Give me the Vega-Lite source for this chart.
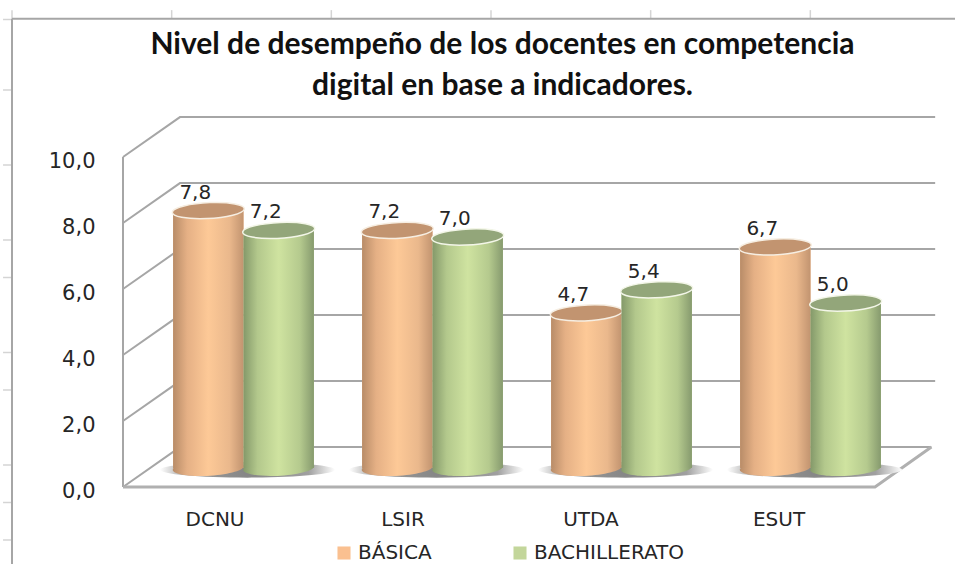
{
"$schema":"https://vega.github.io/schema/vega-lite/v6.json",
"width":955,"height":564,"padding":0,"autosize":{"type":"none"},"background":"#ffffff",
"config":{"view":{"stroke":null},"locale":{"number":{"decimal":",","thousands":".","grouping":[3],"currency":["","€"]}}},
"title":{"text":["Nivel de desempeño de los docentes en competencia","digital en base a indicadores."],"anchor":"middle","dx":25,"dy":134.5,"font":"Lato","fontWeight":"bold","fontSize":30,"lineHeight":41,"color":"#111111","baseline":"bottom"},
"datasets":{
"bars":[
{"indicador":"DCNU","nivel":"BÁSICA","v":7.8},{"indicador":"DCNU","nivel":"BACHILLERATO","v":7.2},
{"indicador":"LSIR","nivel":"BÁSICA","v":7.2},{"indicador":"LSIR","nivel":"BACHILLERATO","v":7.0},
{"indicador":"UTDA","nivel":"BÁSICA","v":4.7},{"indicador":"UTDA","nivel":"BACHILLERATO","v":5.4},
{"indicador":"ESUT","nivel":"BÁSICA","v":6.7},{"indicador":"ESUT","nivel":"BACHILLERATO","v":5.0}],
"cats":[{"indicador":"DCNU"},{"indicador":"LSIR"},{"indicador":"UTDA"},{"indicador":"ESUT"}],
"wall":[
{"g":"0","d":0,"h":0},{"g":"0","d":0.303,"h":1.21},{"g":"0","d":4.3,"h":1.21},
{"g":"2","d":0,"h":2},{"g":"2","d":0.303,"h":3.21},{"g":"2","d":4.32,"h":3.21},
{"g":"4","d":0,"h":4},{"g":"4","d":0.303,"h":5.21},{"g":"4","d":4.32,"h":5.21},
{"g":"6","d":0,"h":6},{"g":"6","d":0.303,"h":7.21},{"g":"6","d":4.32,"h":7.21},
{"g":"8","d":0,"h":8},{"g":"8","d":0.303,"h":9.21},{"g":"8","d":4.32,"h":9.21},
{"g":"10","d":0,"h":10},{"g":"10","d":0.303,"h":11.21},{"g":"10","d":4.32,"h":11.21},
{"g":"axis","d":0,"h":0},{"g":"axis","d":0,"h":10}],
"floorFront":[{"d":0,"h":0},{"d":4,"h":0},{"d":4.3,"h":1.21}],
"frameTicks":[
{"c":0,"c2":0,"r":-0.13,"r2":0.1},{"c":1,"c2":1,"r":-0.13,"r2":0.1},{"c":2,"c2":2,"r":-0.13,"r2":0.1},{"c":3,"c2":3,"r":-0.13,"r2":0.1},{"c":4,"c2":4,"r":-0.13,"r2":0.1},{"c":5,"c2":5,"r":-0.13,"r2":0.1},
{"c":-0.056,"c2":0,"r":0.12,"r2":0.12},{"c":-0.056,"c2":0,"r":2,"r2":2},{"c":-0.056,"c2":0,"r":4,"r2":4},{"c":-0.056,"c2":0,"r":6,"r2":6},{"c":-0.056,"c2":0,"r":7,"r2":7},{"c":-0.056,"c2":0,"r":9,"r2":9},{"c":-0.056,"c2":0,"r":10,"r2":10},{"c":-0.056,"c2":0,"r":12,"r2":12},{"c":-0.056,"c2":0,"r":13,"r2":13},{"c":-0.056,"c2":0,"r":14,"r2":14}],
"frame":[{"c":0,"c2":0,"r":0.1,"r2":15},{"c":0,"c2":6,"r":0.1,"r2":0.1}]
},
"resolve":{"scale":{"x":"independent","y":"independent"},"axis":{"x":"independent","y":"independent"}},
"layer":[
{"data":{"name":"frameTicks"},"mark":{"type":"rule","stroke":"#d4d4d4","strokeWidth":1.5},
 "encoding":{"x":{"field":"c","type":"quantitative","axis":null,"scale":{"domain":[0,6],"range":[12,970],"zero":false,"nice":false}},"x2":{"field":"c2"},"y":{"field":"r","type":"quantitative","axis":null,"scale":{"domain":[0,15],"range":[15,577.5],"zero":false,"nice":false}},"y2":{"field":"r2"}}},
{"data":{"name":"frame"},"mark":{"type":"rule","stroke":"#a6a6a6","strokeWidth":2},
 "encoding":{"x":{"field":"c","type":"quantitative","axis":null,"scale":{"domain":[0,6],"range":[12,970],"zero":false,"nice":false}},"x2":{"field":"c2"},"y":{"field":"r","type":"quantitative","axis":null,"scale":{"domain":[0,15],"range":[15,577.5],"zero":false,"nice":false}},"y2":{"field":"r2"}}},
{"data":{"name":"wall"},"mark":{"type":"line","stroke":"#a6a6a6","strokeWidth":2,"clip":false},
 "encoding":{"x":{"field":"d","type":"quantitative","axis":null,"scale":{"domain":[0,4],"range":[123,875],"zero":false,"nice":false}},
  "y":{"field":"h","type":"quantitative","scale":{"domain":[0,10],"range":[487,157],"nice":false},
   "axis":{"orient":"left","offset":-95,"values":[0,2,4,6,8,10],"format":".1f","title":null,"domain":false,"ticks":false,"grid":false,"labelPadding":0,"labelFont":"DejaVu Sans","labelFontSize":21,"labelColor":"#262626","labelOffset":4}},
  "detail":{"field":"g"}}},
{"data":{"name":"floorFront"},"mark":{"type":"line","stroke":"#b0b0b0","strokeWidth":3},
 "encoding":{"x":{"field":"d","type":"quantitative","axis":null,"scale":{"domain":[0,4],"range":[123,875],"zero":false,"nice":false}},
  "y":{"field":"h","type":"quantitative","axis":null,"scale":{"domain":[0,10],"range":[487,157],"nice":false}}}},
{"data":{"name":"cats"},"mark":{"type":"rule","opacity":0},
 "encoding":{"x":{"field":"indicador","type":"nominal","sort":null,"scale":{"range":[121,873],"paddingInner":0.255,"paddingOuter":0.1275},
   "axis":{"orient":"bottom","offset":-55,"title":null,"domain":false,"ticks":false,"labelAngle":0,"labelPadding":0,"labelFont":"DejaVu Sans","labelFontSize":20,"labelColor":"#262626"}}}},
{"data":{"name":"cats"},"mark":{"type":"point","filled":true,"opacity":1,"size":30625,"shape":"M-1,0.02A1,0.09,0,1,1,1,0.02A1,0.09,0,1,1,-1,0.02Z","fill":{"gradient":"radial","x1":0.5,"y1":0.5,"r1":0,"x2":0.5,"y2":0.5,"r2":0.5,"stops":[{"offset":0,"color":"#858585"},{"offset":0.7,"color":"#a0a0a0"},{"offset":1,"color":"#ffffff"}]}},
 "encoding":{"x":{"field":"indicador","type":"nominal","sort":null,"axis":null,"scale":{"range":[153,909],"paddingInner":0.255,"paddingOuter":0.1275}},
  "y":{"datum":0,"type":"quantitative","axis":null,"scale":{"domain":[0,10],"range":[468,138],"nice":false}}}},
{"data":{"name":"bars"},
 "encoding":{
  "x":{"field":"indicador","type":"nominal","sort":null,"axis":null,"scale":{"range":[149,905],"paddingInner":0.255,"paddingOuter":0.1275}},
  "xOffset":{"field":"nivel","type":"nominal","scale":{"domain":["BÁSICA","BACHILLERATO"]}},
  "y":{"field":"v","type":"quantitative","axis":null,"scale":{"domain":[0,10],"range":[468,138],"nice":false}}},
 "layer":[
  {"mark":{"type":"bar"},"encoding":{"y2":{"datum":0},
    "color":{"field":"nivel","type":"nominal","scale":{"domain":["BÁSICA","BACHILLERATO"],"range":["#fac090","#c3d69b"]},
     "legend":{"title":null,"orient":"none","legendX":334,"legendY":543,"direction":"horizontal","columns":2,"columnPadding":78,"symbolType":"square","symbolSize":170,"symbolStrokeWidth":0,"labelFont":"DejaVu Sans","labelFontSize":20,"labelColor":"#262626","labelOffset":4}}}},
  {"transform":[{"filter":"datum.nivel==='BÁSICA'"}],"mark":{"type":"point","filled":true,"opacity":1,"size":5041,"shape":"M-1,0.04A1,0.22,-3,1,1,1,-0.04A1,0.22,-3,1,1,-1,0.04Z","fill":{"gradient":"linear","x1":0,"x2":1,"y1":0,"y2":0,"stops":[{"offset":0,"color":"#b88c68"},{"offset":0.2,"color":"#e5b085"},{"offset":0.5,"color":"#fdc997"},{"offset":0.8,"color":"#eab88c"},{"offset":1,"color":"#c29470"}]}},"encoding":{"y":{"datum":0}}},
  {"transform":[{"filter":"datum.nivel==='BÁSICA'"}],"mark":{"type":"bar","fill":{"gradient":"linear","x1":0,"x2":1,"y1":0,"y2":0,"stops":[{"offset":0,"color":"#b88c68"},{"offset":0.2,"color":"#e5b085"},{"offset":0.5,"color":"#fdc997"},{"offset":0.8,"color":"#eab88c"},{"offset":1,"color":"#c29470"}]}},"encoding":{"y2":{"datum":0}}},
  {"transform":[{"filter":"datum.nivel==='BÁSICA'"}],"mark":{"type":"point","filled":true,"opacity":1,"size":5184,"shape":"M-1,0.04A1,0.22,-3,1,1,1,-0.04A1,0.22,-3,1,1,-1,0.04Z","fill":"#c29470","stroke":"#f6eee2","strokeWidth":1.5}},
  {"transform":[{"filter":"datum.nivel==='BACHILLERATO'"}],"mark":{"type":"point","filled":true,"opacity":1,"size":5041,"shape":"M-1,0.04A1,0.22,-3,1,1,1,-0.04A1,0.22,-3,1,1,-1,0.04Z","fill":{"gradient":"linear","x1":0,"x2":1,"y1":0,"y2":0,"stops":[{"offset":0,"color":"#84996a"},{"offset":0.2,"color":"#b3c88c"},{"offset":0.5,"color":"#cfe3a0"},{"offset":0.8,"color":"#b5ca8e"},{"offset":1,"color":"#869a6e"}]}},"encoding":{"y":{"datum":0}}},
  {"transform":[{"filter":"datum.nivel==='BACHILLERATO'"}],"mark":{"type":"bar","fill":{"gradient":"linear","x1":0,"x2":1,"y1":0,"y2":0,"stops":[{"offset":0,"color":"#84996a"},{"offset":0.2,"color":"#b3c88c"},{"offset":0.5,"color":"#cfe3a0"},{"offset":0.8,"color":"#b5ca8e"},{"offset":1,"color":"#869a6e"}]}},"encoding":{"y2":{"datum":0}}},
  {"transform":[{"filter":"datum.nivel==='BACHILLERATO'"}],"mark":{"type":"point","filled":true,"opacity":1,"size":5184,"shape":"M-1,0.04A1,0.22,-3,1,1,1,-0.04A1,0.22,-3,1,1,-1,0.04Z","fill":"#93a67a","stroke":"#f3f6e8","strokeWidth":1.5}},
  {"mark":{"type":"text","align":"center","baseline":"middle","dx":-13,"dy":-18,"font":"DejaVu Sans","fontSize":20,"color":"#262626"},"encoding":{"text":{"field":"v","type":"quantitative","format":".1f"}}}
 ]}
]
}
